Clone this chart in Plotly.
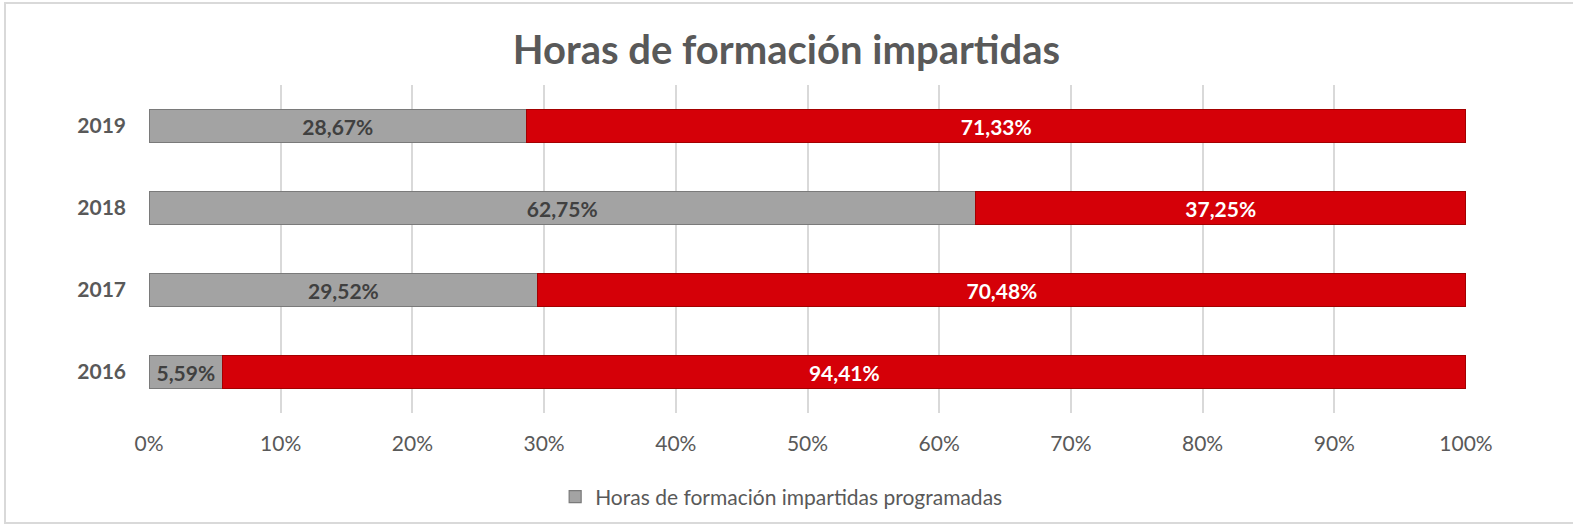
import plotly.graph_objects as go

years = ["2016", "2017", "2018", "2019"]
programadas = [5.59, 29.52, 62.75, 28.67]
no_programadas = [94.41, 70.48, 37.25, 71.33]
x_ticks = [0, 10, 20, 30, 40, 50, 60, 70, 80, 90, 100]

def fmt(v):
    return f"{v:.2f}".replace(".", ",") + "%"

font_fam = "Lato, 'Open Sans', sans-serif"

fig = go.Figure()
fig.add_trace(go.Bar(
    y=years, x=programadas, orientation="h",
    name="Horas de formación impartidas programadas",
    marker=dict(color="#a3a3a3", line=dict(color="#7a7a7a", width=1.2)),
    text=[fmt(v) for v in programadas], textposition="inside",
    insidetextanchor="middle",
    textfont=dict(color="#404040", size=21, family=font_fam, weight="bold"),
    hoverinfo="skip",
))
fig.add_trace(go.Bar(
    y=years, x=no_programadas, orientation="h",
    name="Horas de formación impartidas no programadas",
    showlegend=False,
    marker=dict(color="#d50008", line=dict(color="#a30000", width=1.2)),
    text=[fmt(v) for v in no_programadas], textposition="inside",
    insidetextanchor="middle",
    textfont=dict(color="#ffffff", size=21, family=font_fam, weight="bold"),
    hoverinfo="skip",
))

fig.update_layout(
    barmode="stack",
    bargap=0.6,
    width=1573, height=529,
    paper_bgcolor="white", plot_bgcolor="white",
    margin=dict(l=149, r=107, t=85, b=116, autoexpand=False),
    title=dict(text="<b>Horas de formación impartidas</b>",
               x=0.5, xanchor="center", y=0.905, yanchor="middle",
               font=dict(size=40, color="#595959", family=font_fam)),
    uniformtext=dict(mode="show", minsize=10),
    legend=dict(orientation="h", x=0.48, xanchor="center",
                y=-0.256, yanchor="middle",
                font=dict(size=21, color="#595959", family=font_fam),
                itemwidth=30),
    font=dict(family=font_fam),
)
fig.update_xaxes(
    range=[0, 100], tickvals=x_ticks, ticktext=[f"{t}%" for t in x_ticks],
    showgrid=True, gridcolor="#d9d9d9", gridwidth=1.5, zeroline=False,
    showline=False, ticks="", ticklabelstandoff=16, tickangle=0, automargin=False,
    tickfont=dict(size=21, color="#595959", family=font_fam),
)
fig.update_yaxes(
    categoryorder="array", categoryarray=years, automargin=False,
    showgrid=False, showline=False, ticks="", ticklabelstandoff=22,
    tickfont=dict(size=21, color="#595959", family=font_fam, weight="bold"),
)
fig.add_shape(type="rect", xref="paper", yref="paper",
              x0=(5 - 149) / 1317, x1=(1580 - 149) / 1317,
              y0=(413 - 523) / 328, y1=(413 - 3) / 328,
              line=dict(color="#d9d9d9", width=2), fillcolor="rgba(0,0,0,0)", layer="below")

fig.write_html("out.html", config={"displayModeBar": False},
               post_script="document.body.style.margin='0';document.body.style.overflow='hidden';")
